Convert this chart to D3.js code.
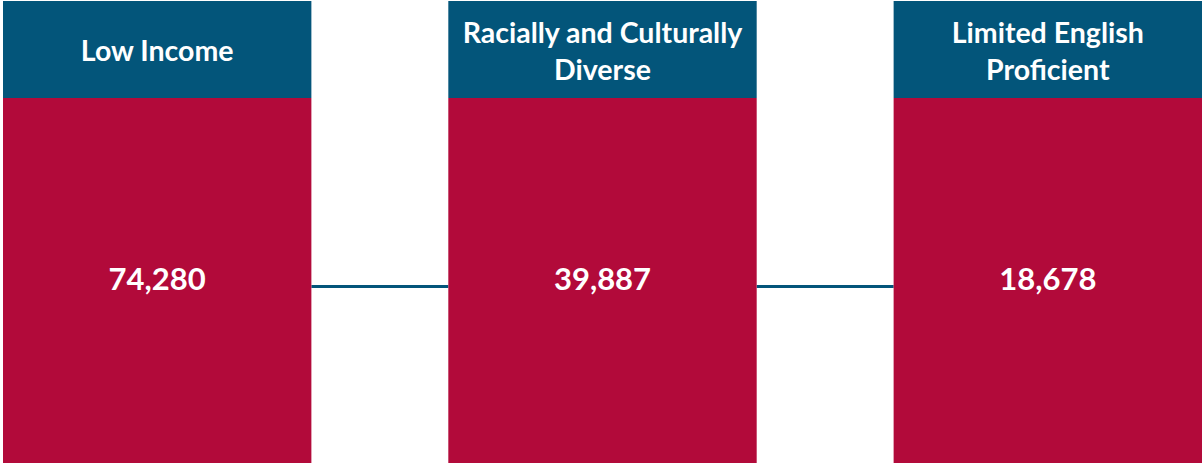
<!DOCTYPE html>
<html>
<head>
<meta charset="utf-8">
<script src="https://cdn.jsdelivr.net/npm/d3@7"></script>
<style>
  html, body { margin: 0; padding: 0; background: #ffffff; }
  svg { display: block; }
  text { font-family: Lato, "Open Sans", sans-serif; font-weight: 700; fill: #ffffff; }
</style>
</head>
<body>
<div id="chart"></div>
<script>
// Data
const categories = ["Low Income", "Racially and Culturally Diverse", "Limited English Proficient"];
const headerLines = [["Low Income"], ["Racially and Culturally", "Diverse"], ["Limited English", "Proficient"]];
const values = [74280, 39887, 18678];

const width = 1202, height = 464;
const blue = "#03557a", red = "#b20a3a";

const svg = d3.select("#chart").append("svg")
    .attr("width", width)
    .attr("height", height);

const x = d3.scaleBand()
    .domain(categories)
    .range([3, 1202])
    .paddingInner(0.3075)
    .paddingOuter(0);

const colTop = 1, headerBottom = 98, colBottom = 463, lineY = 286.5;
const fmt = d3.format(",");

// connector lines between columns
svg.selectAll(".connector")
    .data(categories.slice(0, -1))
    .enter().append("line")
    .attr("class", "connector")
    .attr("x1", d => x(d) + x.bandwidth())
    .attr("x2", (d, i) => x(categories[i + 1]))
    .attr("y1", lineY)
    .attr("y2", lineY)
    .attr("stroke", blue)
    .attr("stroke-width", 3);

const col = svg.selectAll(".col")
    .data(categories)
    .enter().append("g")
    .attr("class", "col")
    .attr("transform", d => `translate(${x(d)},0)`);

col.append("rect")
    .attr("y", colTop)
    .attr("width", x.bandwidth())
    .attr("height", headerBottom - colTop)
    .attr("fill", blue);

col.append("rect")
    .attr("y", headerBottom)
    .attr("width", x.bandwidth())
    .attr("height", colBottom - headerBottom)
    .attr("fill", red);

// header labels
col.each(function(d, i) {
    const lines = headerLines[i];
    const t = d3.select(this).append("text")
        .attr("text-anchor", "middle")
        .attr("font-size", 28.5);
    const baselines = lines.length === 1 ? [61] : [43, 80];
    lines.forEach((ln, j) => {
        t.append("tspan")
            .attr("x", x.bandwidth() / 2)
            .attr("y", baselines[j])
            .text(ln);
    });
});

// values
col.append("text")
    .attr("text-anchor", "middle")
    .attr("x", x.bandwidth() / 2)
    .attr("y", 290)
    .attr("font-size", 31)
    .text((d, i) => fmt(values[i]));
</script>
</body>
</html>
